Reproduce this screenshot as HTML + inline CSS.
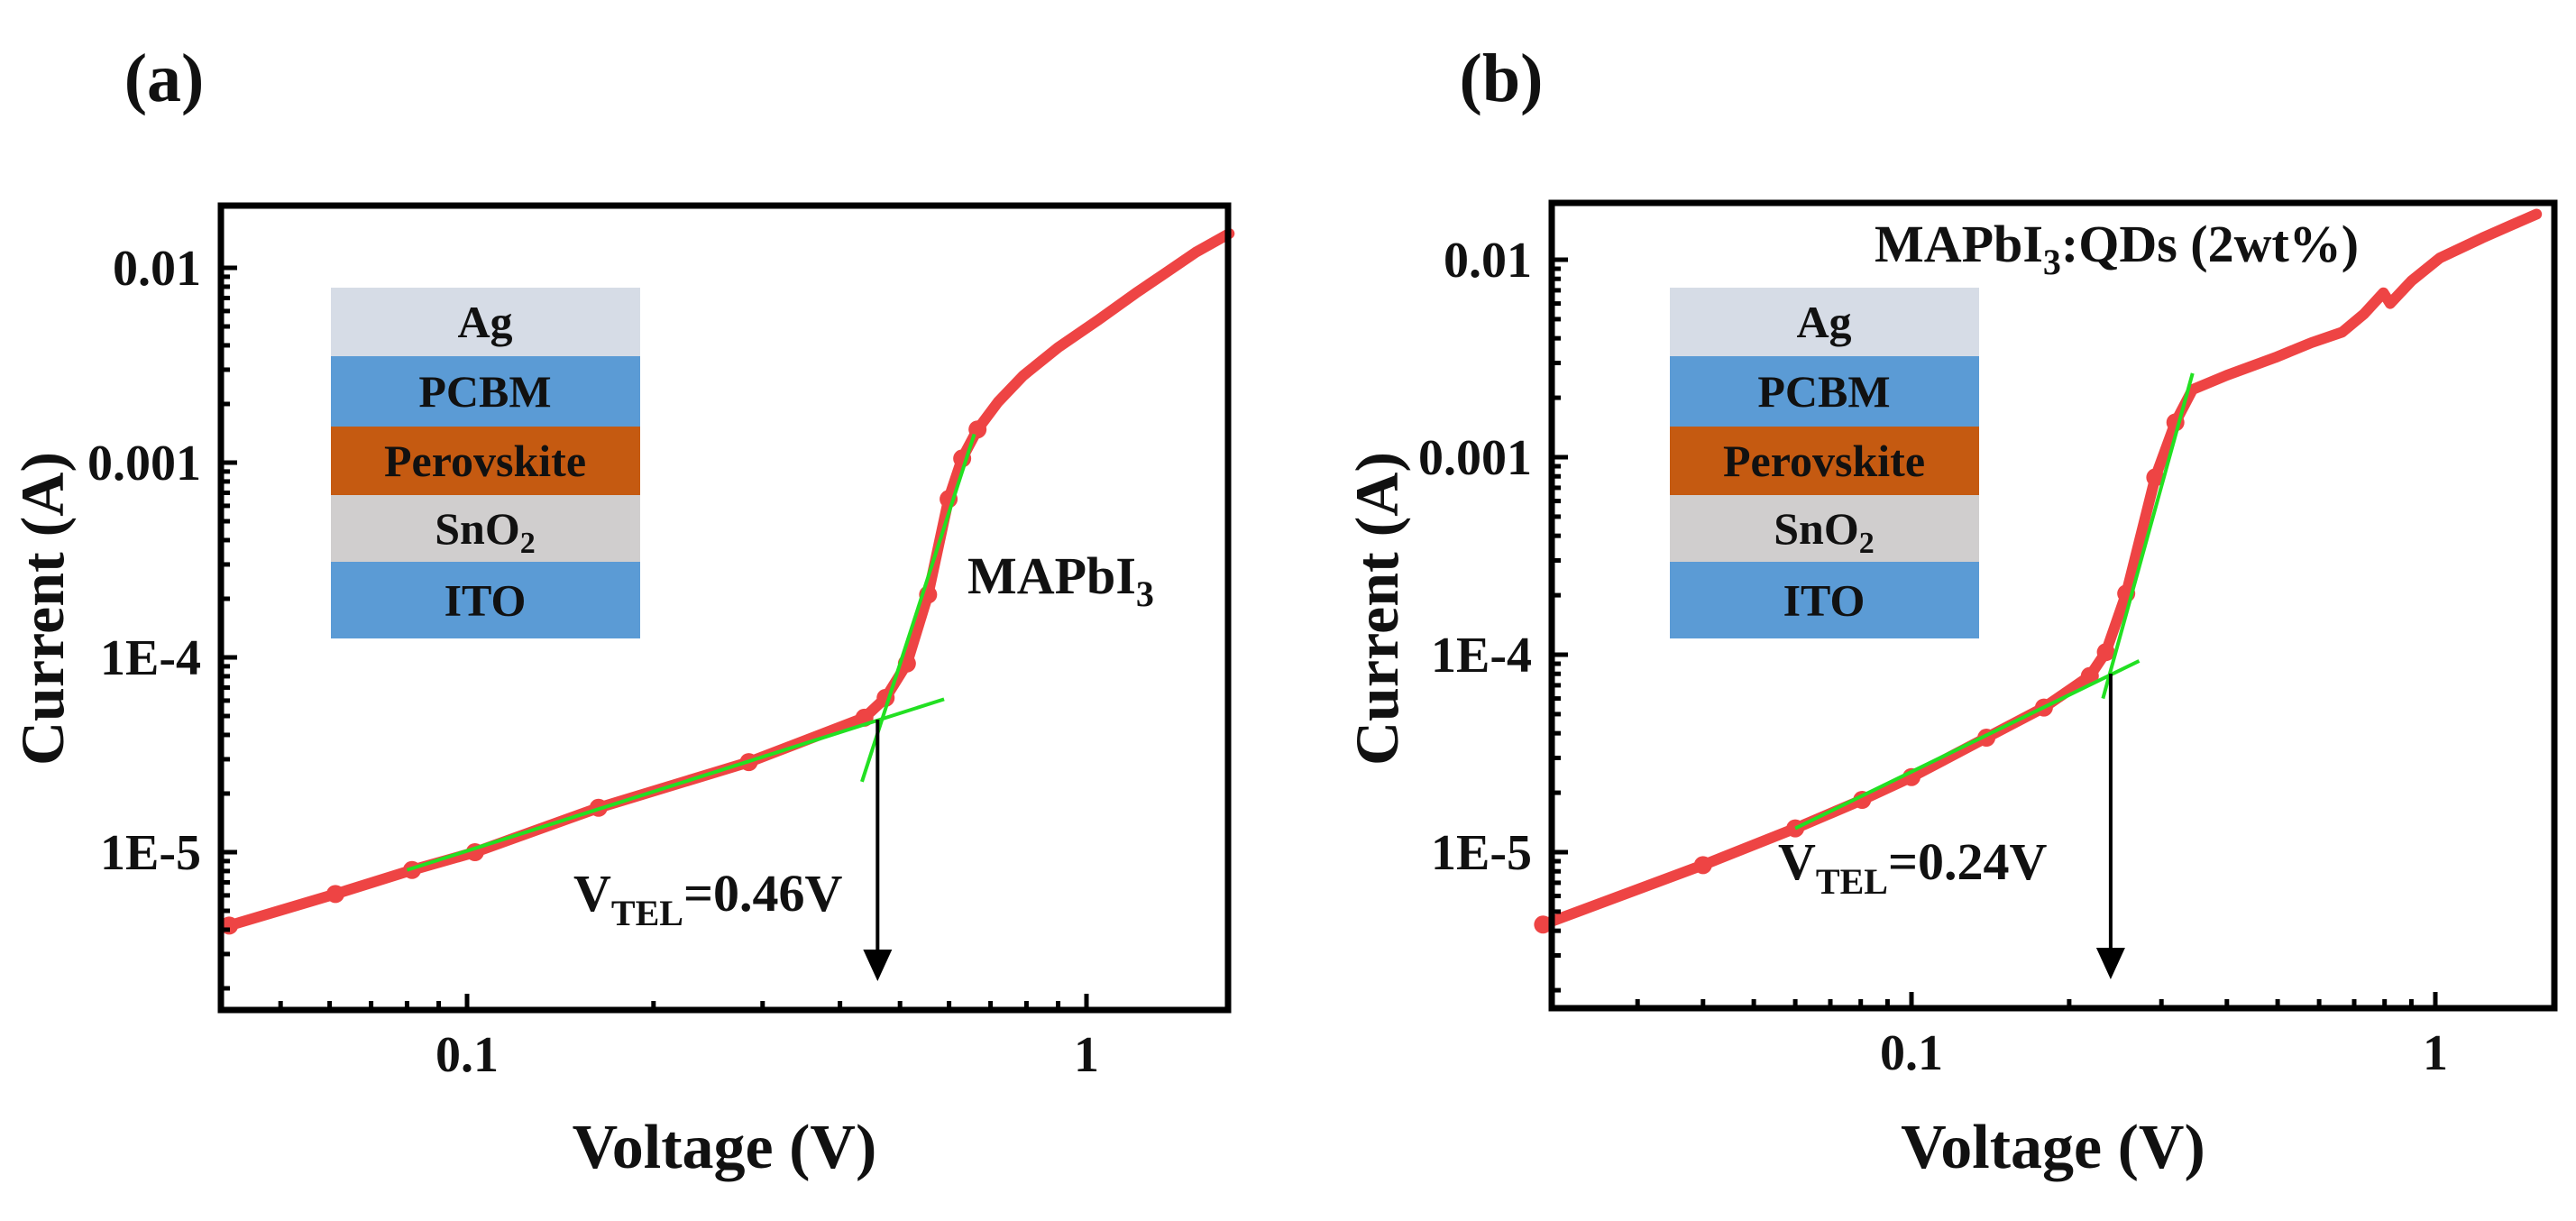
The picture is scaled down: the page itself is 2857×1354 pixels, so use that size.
<!DOCTYPE html>
<html><head><meta charset="utf-8"><style>
html,body{margin:0;padding:0;background:#fff;}
svg{display:block;}
text{font-family:"Liberation Serif",serif;font-weight:bold;fill:#111;}
</style></head><body>
<svg id="fig" width="2857" height="1354" viewBox="0 0 2857 1354" xmlns="http://www.w3.org/2000/svg"></svg>
<script>
// ---- Panel (a) data ----
const aVoltage = [0.0413,0.0613,0.0815,0.103,0.163,0.285,0.438,0.474,0.513,0.555,0.599,0.630,0.667,0.72,0.791,0.90,1.045,1.2,1.334,1.5,1.70];
const aCurrent = [4.2e-6,6.1e-6,8.1e-6,1.0e-5,1.69e-5,2.9e-5,4.9e-5,6.2e-5,9.3e-5,2.1e-4,6.5e-4,1.05e-3,1.48e-3,2.05e-3,2.8e-3,3.9e-3,5.4e-3,7.4e-3,9.3e-3,1.2e-2,1.5e-2];
const aFitLowV = [0.080,0.589];
const aFitLowI = [8.1e-6,6.1e-5];
const aFitHighV = [0.434,0.659];
const aFitHighI = [2.3e-5,1.4e-3];
const aVtel = 0.46;
// ---- Panel (b) data ----
const bVoltage = [0.0198,0.040,0.060,0.0805,0.1,0.139,0.179,0.219,0.235,0.257,0.292,0.319,0.344,0.40,0.495,0.58,0.664,0.73,0.796,0.82,0.9,1.02,1.23,1.4,1.56];
const bCurrent = [4.3e-6,8.6e-6,1.32e-5,1.84e-5,2.4e-5,3.8e-5,5.4e-5,7.8e-5,1.03e-4,2.04e-4,7.9e-4,1.5e-3,2.2e-3,2.6e-3,3.2e-3,3.8e-3,4.3e-3,5.3e-3,6.8e-3,6.0e-3,7.8e-3,1.02e-2,1.29e-2,1.5e-2,1.7e-2];
const bFitLowV = [0.060,0.272];
const bFitLowI = [1.32e-5,9.3e-5];
const bFitHighV = [0.232,0.344];
const bFitHighI = [6.0e-5,2.66e-3];
const bVtel = 0.24;
// ---- tick labels ----
const yTickVals = [0.01,0.001,1e-4,1e-5];
const yTickLabels = ["0.01","0.001","1E-4","1E-5"];
const xTickVals = [0.1,1];
const xTickLabels = ["0.1","1"];
const layerNames = ["Ag","PCBM","Perovskite","SnO2","ITO"];

const NS="http://www.w3.org/2000/svg";
const svg=document.getElementById('fig');
function el(tag,attrs,parent,txt){const e=document.createElementNS(NS,tag);for(const k in attrs)e.setAttribute(k,attrs[k]);if(txt!==undefined)e.textContent=txt;(parent||svg).appendChild(e);return e;}

function panel(cfg){
  const g=el('g',{});
  
  
  const {L,R,T,B,x01,xdec,y01,ydec}=cfg;
  const X=v=>x01+(Math.log10(v)+1)*xdec;
  const Y=i=>y01-(Math.log10(i)+2)*ydec;
  const colors=["#d6dce6","#5b9bd5","#c55a11","#d0cece","#5b9bd5"];
  const bounds=[319,395,473,549,623,708];
  const ig=el('g',{},g);
  
  
  for(let k=0;k<5;k++){
    const r=el('rect',{x:cfg.insetL,y:bounds[k],width:343,height:bounds[k+1]-bounds[k],fill:colors[k]},ig);
    
    
    const t=el('text',{x:cfg.insetL+171,y:(bounds[k]+bounds[k+1])/2+17,'font-size':50,'text-anchor':'middle'},ig);
    
    
    if(layerNames[k]==="SnO2"){t.textContent="SnO";el('tspan',{'font-size':34,dy:10},t,"2");}
    else t.textContent=layerNames[k];
  }
  const pts=cfg.V.map((v,i)=>X(v).toFixed(1)+','+Y(cfg.I[i]).toFixed(1)).join(' ');
  const c=el('polyline',{points:pts,fill:'none',stroke:'#ee4444','stroke-width':12,'stroke-linejoin':'round','stroke-linecap':'round'},g);
  
  
  cfg.V.forEach((v,i)=>{
    if(cfg.I[i]>1.5e-3) return;
    const m=el('circle',{cx:X(v),cy:Y(cfg.I[i]),r:10,fill:'#ee4444'},g);
    
    
  });
  [[cfg.fLV,cfg.fLI,'fit-line-ohmic'],[cfg.fHV,cfg.fHI,'fit-line-tfl']].forEach(f=>{
    const l=el('line',{x1:X(f[0][0]),y1:Y(f[1][0]),x2:X(f[0][1]),y2:Y(f[1][1]),stroke:'#22e022','stroke-width':4},g);
    
    
  });
  const ax=X(cfg.vtel);
  const ar=el('line',{x1:ax,y1:cfg.arrowTop,x2:ax,y2:B-50,stroke:'#000','stroke-width':4},g);
  
  
  const ah=el('polygon',{points:`${ax-16},${B-67} ${ax+16},${B-67} ${ax},${B-32}`,fill:'#000'},g);
  
  
  const fr=el('rect',{x:L,y:T,width:R-L,height:B-T,fill:'none',stroke:'#000','stroke-width':7},g);
  
  
  for(let e=-2;e<=0;e++)for(let m=1;m<10;m++){
    const v=m*Math.pow(10,e);const x=X(v);if(x<L+4||x>R-4)continue;
    const tk=el('line',{x1:x,y1:B,x2:x,y2:B-(m===1?18:10),stroke:'#000','stroke-width':5},g);
    
    
  }
  for(let e=-6;e<=-1;e++)for(let m=1;m<10;m++){
    const v=m*Math.pow(10,e);const y=Y(v);if(y<T+4||y>B-4)continue;
    const tk=el('line',{x1:L,y1:y,x2:L+(m===1?18:10),y2:y,stroke:'#000','stroke-width':5},g);
    
    
  }
  xTickVals.forEach((v,i)=>{
    const t=el('text',{x:X(v),y:B+68,'font-size':56,'text-anchor':'middle'},g,xTickLabels[i]);
    
    
  });
  yTickVals.forEach((v,i)=>{
    const t=el('text',{x:L-22,y:Y(v)+19,'font-size':56,'text-anchor':'end'},g,yTickLabels[i]);
    
    
  });
  const xt=el('text',{x:(L+R)/2,y:1295,'font-size':70,'text-anchor':'middle'},g,'Voltage (V)');
  
  
  const yt=el('text',{x:0,y:0,'font-size':68,'text-anchor':'middle',transform:`translate(${cfg.ytx},675) rotate(-90)`},g,'Current (A)');
  
  
  const pl=el('text',{x:cfg.plx,y:112,'font-size':76,'text-anchor':'middle'},g,cfg.plabel);
  
  
  const sl=el('text',{x:cfg.slx,y:cfg.sly,'font-size':58},g);
  
  
  sl.textContent='MAPbI';
  el('tspan',{'font-size':40,dy:14},sl,'3');
  if(cfg.slExtra) el('tspan',{dy:-14},sl,cfg.slExtra);
  const vl=el('text',{x:cfg.vlx,y:cfg.vly,'font-size':58},g);
  
  
  vl.textContent='V';
  el('tspan',{'font-size':40,dy:16},vl,'TEL');
  el('tspan',{dy:-16},vl,'='+cfg.vtel.toFixed(2)+'V');
}

panel({id:'panel-a',L:245,R:1362,T:228,B:1120,x01:518,xdec:687,y01:297,ydec:216,
  V:aVoltage,I:aCurrent,fLV:aFitLowV,fLI:aFitLowI,fHV:aFitHighV,fHI:aFitHighI,vtel:aVtel,
  arrowTop:798,insetL:367,ytx:70,plx:182,plabel:'(a)',slx:1073,sly:658,vlx:636,vly:1010});
panel({id:'panel-b',L:1721,R:2833,T:225,B:1118,x01:2120,xdec:581,y01:288,ydec:219,
  V:bVoltage,I:bCurrent,fLV:bFitLowV,fLI:bFitLowI,fHV:bFitHighV,fHI:bFitHighI,vtel:bVtel,
  arrowTop:747,insetL:1852,ytx:1550,plx:1665,plabel:'(b)',slx:2079,sly:290,slExtra:':QDs (2wt%)',vlx:1972,vly:975});
</script>
</body></html>
